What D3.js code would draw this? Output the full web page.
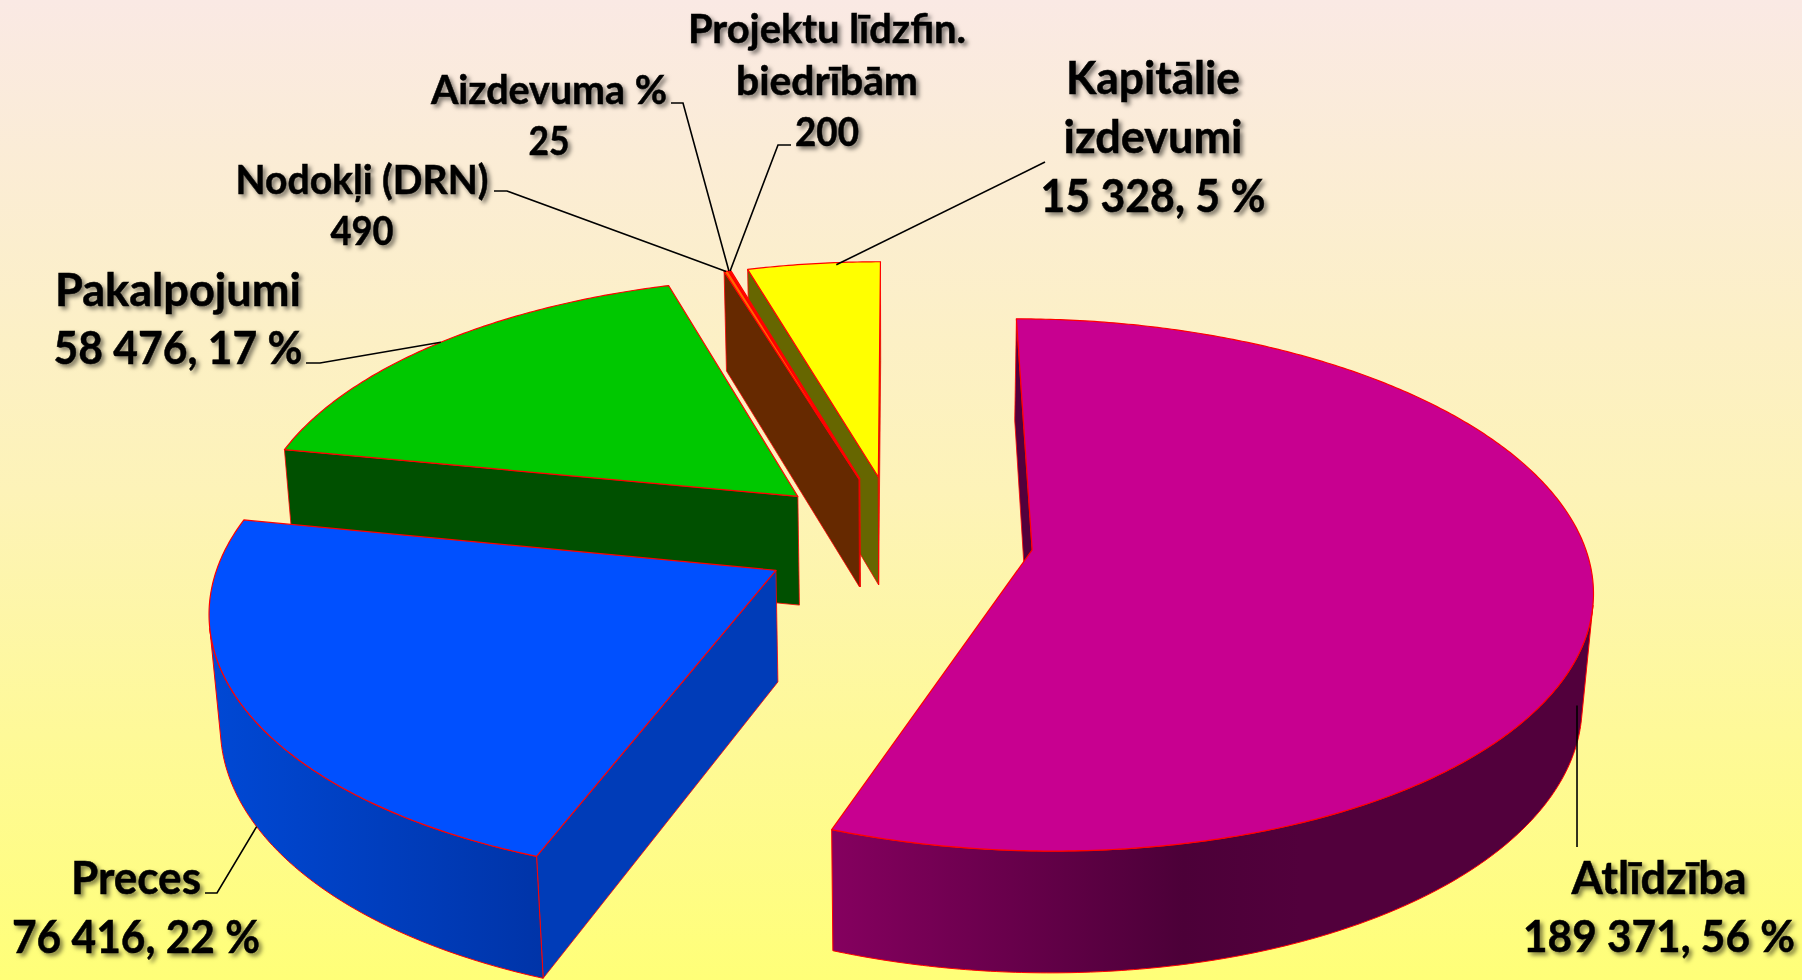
<!DOCTYPE html>
<html lang="lv">
<head>
<meta charset="utf-8">
<script src="https://cdn.jsdelivr.net/npm/d3@7/dist/d3.min.js"></script>
<style>
html,body{margin:0;padding:0;background:#fff;overflow:hidden}
svg{display:block}
text{font-family:Lato,"Open Sans",sans-serif;font-weight:700;fill:#000;stroke:#000;stroke-width:.5;text-anchor:middle;filter:drop-shadow(3px 3px 2px rgba(0,0,0,.5))}
</style>
</head>
<body>
<svg id="chart" width="1802" height="980"></svg>
<script>
const sliceNames = [["Atlīdzība"],["Preces"],["Pakalpojumi"],["Nodokļi (DRN)"],["Aizdevuma %"],["Projektu līdzfin.","biedrībām"],["Kapitālie","izdevumi"]];
const sliceValues = [189371,76416,58476,490,25,200,15328];
const slicePercents = [56,22,17,null,null,null,5];
const topColors = ["#c80090","#0050ff","#00c800","#ff6600","#ff3300","#ff3300","#ffff00"];
const sideColors = ["#52003c","#003cb8","#005000","#662900","#662900","#662900","#666600"];

/* 3D scene */
const W=1802,H=980,focal=3708,camDist=6.6,pitch=28*Math.PI/180,originX=897,originY=538.5;
const explode=0.243,radius=0.98,thickness=0.226;
function project(X,Y,Z){
  const yc=Y*Math.sin(pitch)+Z*Math.cos(pitch), zc=camDist+Y*Math.cos(pitch)-Z*Math.sin(pitch);
  return [originX+focal*X/zc, originY-focal*yc/zc];
}
const pie=d3.pie().sort(null);
const arcs=pie(sliceValues);
const area=p=>-d3.polygonArea(p);
const line=d3.line();
const fmt=d3.formatLocale({decimal:",",thousands:" ",grouping:[3],currency:["",""]}).format(",d");

const svg=d3.select("#chart");
const defs=svg.append("defs");
const bg=defs.append("linearGradient").attr("id","bg").attr("x1",0).attr("y1",0).attr("x2",0).attr("y2",1);
[[0,"#fae9e4"],[0.5,"#fdf3b8"],[1,"#ffff78"]].forEach(s=>bg.append("stop").attr("offset",s[0]).attr("stop-color",s[1]));
svg.append("rect").attr("width",W).attr("height",H).attr("fill","url(#bg)");

function addWallGradient(id,x1,x2,stops){
  const g=defs.append("linearGradient").attr("id",id).attr("gradientUnits","userSpaceOnUse").attr("x1",x1).attr("x2",x2).attr("y1",0).attr("y2",0);
  stops.forEach(s=>g.append("stop").attr("offset",s[0]).attr("stop-color",s[1]));
}
addWallGradient("wall0",832,1300,[[0,"#85005f"],[0.75,"#4c0038"],[1,"#52003c"]]);
addWallGradient("wall1",215,545,[[0,"#0048d4"],[1,"#0034a8"]]);

const slices=arcs.map((a,i)=>{
  const mid=(a.startAngle+a.endAngle)/2;
  return {i,a,cx:explode*Math.sin(mid),cy:explode*Math.cos(mid)};
});
const pt=(s,th,r,z)=>project(s.cx+radius*r*Math.sin(th),s.cy+radius*r*Math.cos(th),z);

slices.slice().sort((p,q)=>d3.descending(p.cy,q.cy)).forEach(s=>{
  const a=s.a,g=svg.append("g"),side=sideColors[s.i],z=-thickness;
  const steps=Math.max(2,Math.ceil((a.endAngle-a.startAngle)/0.01));
  const th=d3.range(steps+1).map(k=>a.startAngle+(a.endAngle-a.startAngle)*k/steps);
  const draw=(p,fill,w)=>g.append("path").attr("d",line(p)+"Z").attr("fill",fill).attr("stroke","#ff0000").attr("stroke-width",w).attr("stroke-linejoin","round");
  // radial walls
  const st=[pt(s,a.startAngle,1,0),pt(s,0,0,0),pt(s,0,0,z),pt(s,a.startAngle,1,z)];
  const en=[pt(s,0,0,0),pt(s,a.endAngle,1,0),pt(s,a.endAngle,1,z),pt(s,0,0,z)];
  [st,en].forEach(q=>{ if(area(q)>0) draw(q,side,0.8); });
  // outer wall: the front-facing run of segments
  let run=[];
  const flush=()=>{ if(run.length>1){
      const top=run.map(t=>pt(s,t,1,0)), bot=run.map(t=>pt(s,t,1,z)).reverse();
      draw(top.concat(bot), s.i<2?`url(#wall${s.i})`:side,1);
    } run=[]; };
  for(let k=0;k<steps;k++){
    const q=[pt(s,th[k+1],1,0),pt(s,th[k],1,0),pt(s,th[k],1,z),pt(s,th[k+1],1,z)];
    if(area(q)>0){ if(!run.length) run.push(th[k]); run.push(th[k+1]); } else flush();
  }
  flush();
  // top face
  draw([pt(s,0,0,0)].concat(th.map(t=>pt(s,t,1,0))),topColors[s.i],1.2);
});

/* leader lines: label-side elbows, and a slice-side anchor */
const anchorOf=(i,t,z)=>{const s=slices[i],th=s.a.startAngle+(s.a.endAngle-s.a.startAngle)*t;return pt(s,th,1,z);};
const a0=anchorOf(0,0.55,-0.12);
const leaders=[
  [a0,[a0[0],847]],
  [[205,893],[217,893],anchorOf(1,0.5,-thickness)],
  [[306,363],[320,363],anchorOf(2,0.508,0)],
  [[494,191],[507,191],anchorOf(3,0.5,0)],
  [[671,103],[683,103],anchorOf(4,0.5,0)],
  [[791,145],[778,145],anchorOf(5,0.5,0)],
  [[1045,162],anchorOf(6,0.67,-0.005)]
];
svg.append("g").selectAll("path").data(leaders).join("path")
  .attr("d",line).attr("fill","none").attr("stroke","#000").attr("stroke-width",1.6);

/* labels */
const labelLayout=[
  {x:1659,y:[882,941],size:[46,43],w:[175,272]},
  {x:136,y:[882,941],size:[46,46],w:[130,248]},
  {x:178,y:[294,352],size:[46,46],w:[246,249]},
  {x:362,y:[184,235],size:[40,40],w:[253,63]},
  {x:549,y:[94,145],size:[40,40],w:[236,41]},
  {x:827,y:[33,85,136],size:[40,40,40],w:[278,182,64]},
  {x:1153,y:[82,141,200],size:[46,46,46],w:[174,179,225]}
];
const labels=svg.append("g");
sliceNames.forEach((lines,i)=>{
  const last=slicePercents[i]==null?fmt(sliceValues[i]):`${fmt(sliceValues[i])}, ${slicePercents[i]} %`;
  const all=lines.concat([last]),L=labelLayout[i];
  all.forEach((t,k)=>labels.append("text").attr("x",L.x).attr("y",L.y[k]).attr("font-size",L.size[k])
    .attr("textLength",L.w[k]).attr("lengthAdjust","spacingAndGlyphs").attr("dominant-baseline","middle").text(t));
});
</script>
</body>
</html>
